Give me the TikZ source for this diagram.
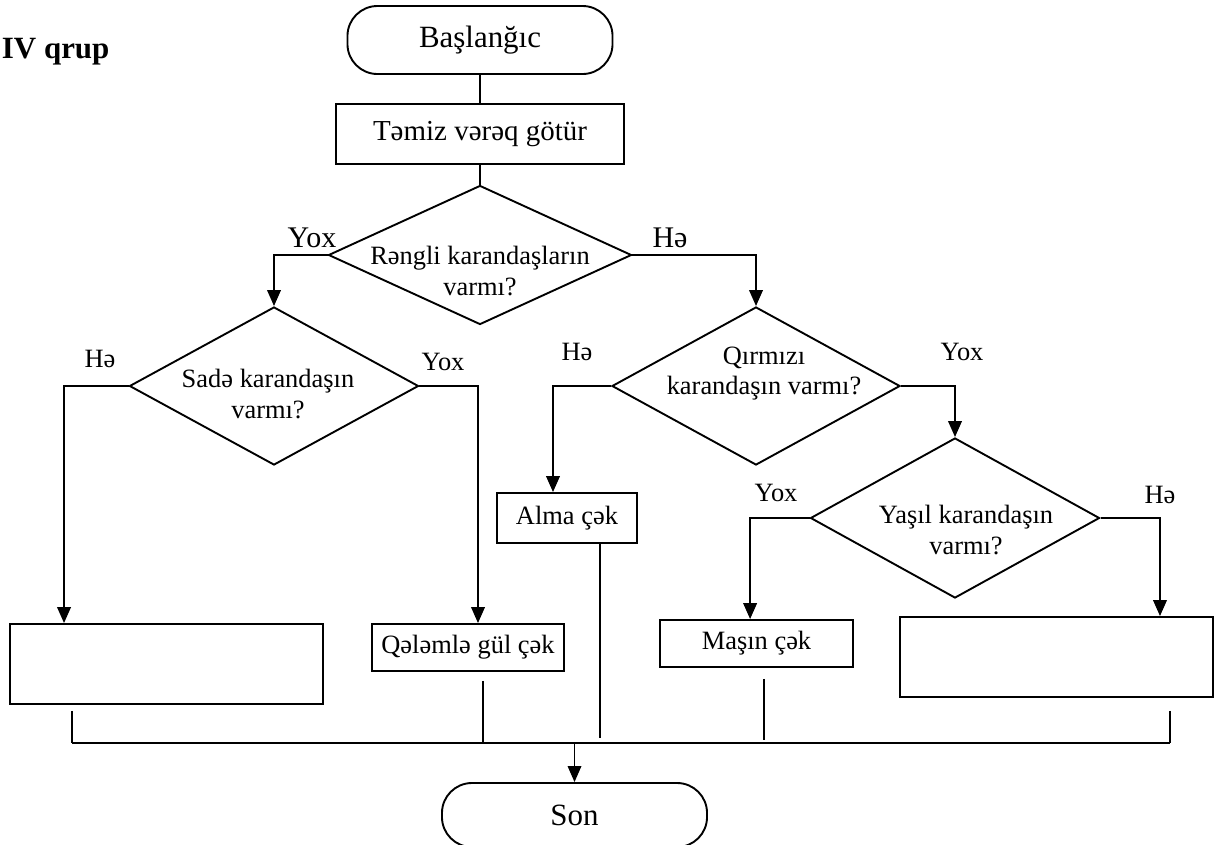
\documentclass[tikz,border=0pt]{standalone}
\usepackage{fontspec}
\setmainfont{Liberation Serif}
\usetikzlibrary{arrows.meta,shapes.geometric,positioning}
\newcommand{\fsmain}{\fontsize{18.8}{21.4}\selectfont}
\newcommand{\fsterm}{\fontsize{22}{26}\selectfont}
\newcommand{\fstop}{\fontsize{21.3}{25}\selectfont}
\newcommand{\fssheet}{\fontsize{20.6}{24}\selectfont}

\begin{document}
\begin{tikzpicture}[x=0.025cm,y=-0.025cm,line width=1.35pt,
 >={Triangle[length=0.4cm,width=0.34cm]},
 termbox/.style={draw,rounded corners=0.75cm,minimum width=6.625cm,minimum height=1.7cm,font=\fsterm,inner sep=0pt},
 actbox/.style={draw,rectangle,inner sep=0pt,font=\fsmain},
 askbox/.style={draw,diamond,inner sep=0pt},
 asktext/.style={align=center,font=\fsmain,inner sep=0pt},
 lab/.style={font=\fsmain,inner sep=0pt},
 toplab/.style={font=\fstop,inner sep=0pt}]
 \useasboundingbox (0,0) rectangle (1221,844);
 \node[font=\fsterm\bfseries,anchor=base west,inner sep=0pt] (group) at (1,58) {IV qrup};
 \node[termbox] (start) at (480,40) {Başlanğıc};
 \node[actbox,minimum width=7.2cm,minimum height=1.5cm,font=\fssheet] (sheet) at (480,134) {Təmiz vərəq götür};
 % decisions
 \node[askbox,minimum width=7.575cm,minimum height=3.475cm] (q1) at (480,255) {};
 \node[asktext] (q1t) at (480,271) {Rəngli karandaşların\\varmı?};
 \node[askbox,minimum width=7.225cm,minimum height=3.95cm] (q2) at (274,386) {};
 \node[asktext] (q2t) at (268,394) {Sadə karandaşın\\varmı?};
 \node[askbox,minimum width=7.2cm,minimum height=3.95cm] (q3) at (756,386) {};
 \node[asktext] (q3t) at (764,374) {Qırmızı\\karandaşın varmı?};
 \node[askbox,minimum width=7.225cm,minimum height=4cm] (q4) at (955,518) {};
 \node[asktext] (q4t) at (966,530) {Yaşıl karandaşın\\varmı?};
 % actions
 \node[actbox,minimum width=7.825cm,minimum height=2cm] (blank1) at (166.5,664) {};
 \node[actbox,minimum width=4.8cm,minimum height=1.175cm] (rose) at (468,647.5) {Qələmlə gül çək};
 \node[actbox,minimum width=3.5cm,minimum height=1.25cm] (apple) at (567,518) {Alma çək};
 \node[actbox,minimum width=4.825cm,minimum height=1.175cm] (car) at (756.5,643.5) {Maşın çək};
 \node[actbox,minimum width=7.825cm,minimum height=2cm] (blank2) at (1056.5,657) {};
 \node[termbox,minimum height=1.6cm] (stop) at (574.5,815) {Son};
 % branch labels
 \node[toplab] (no1) at (312,238) {Yox};
 \node[toplab] (yes1) at (670,238) {Hə};
 \node[lab] (yes2) at (100,359) {Hə};
 \node[lab] (no2) at (443,362) {Yox};
 \node[lab] (yes3) at (577,352) {Hə};
 \node[lab] (no3) at (962,352) {Yox};
 \node[lab] (no4) at (776,493) {Yox};
 \node[lab] (yes4) at (1160,495) {Hə};
 % connectors
 \draw (start) -- (sheet);
 \draw (sheet) -- (q1);
 \draw[->] (q1.west) -| (q2.north);
 \draw[->] (q1.east) -| (q3.north);
 \draw[->] (q2.west) -| ([xshift=1.375cm]blank1.north west);
 \draw[->] (q2.east) -| ([xshift=0.25cm]rose.north);
 \draw[->] (q3.west) -| ([xshift=-0.35cm]apple.north);
 \draw[->] (q3.east) -| (q4.north);
 \draw[->] (q4.west) -| ([xshift=-0.16cm]car.north);
 \draw[->] (q4.east) -| ([xshift=-1.35cm]blank2.north east);
 % joining line
 \coordinate (j1) at (72,743);
 \coordinate (j2) at (483,743);
 \coordinate (j3) at (600,743);
 \coordinate (j4) at (764,743);
 \coordinate (j5) at (1170,743);
 \draw (j1) -- (j5);
 \draw[line width=1pt,shorten <=0.15cm] (blank1.south -| j1) -- (j1);
 \draw[line width=1pt,shorten <=0.225cm] (rose.south -| j2) -- (j2);
 \draw[line width=1pt,shorten >=0.125cm] (apple.south -| j3) -- (j3);
 \draw[line width=1pt,shorten <=0.275cm,shorten >=0.075cm] (car.south -| j4) -- (j4);
 \draw[line width=1pt,shorten <=0.325cm] (blank2.south -| j5) -- (j5);
 \draw[->,line width=1pt] (j1 -| stop.north) -- (stop.north);
\end{tikzpicture}
\end{document}
